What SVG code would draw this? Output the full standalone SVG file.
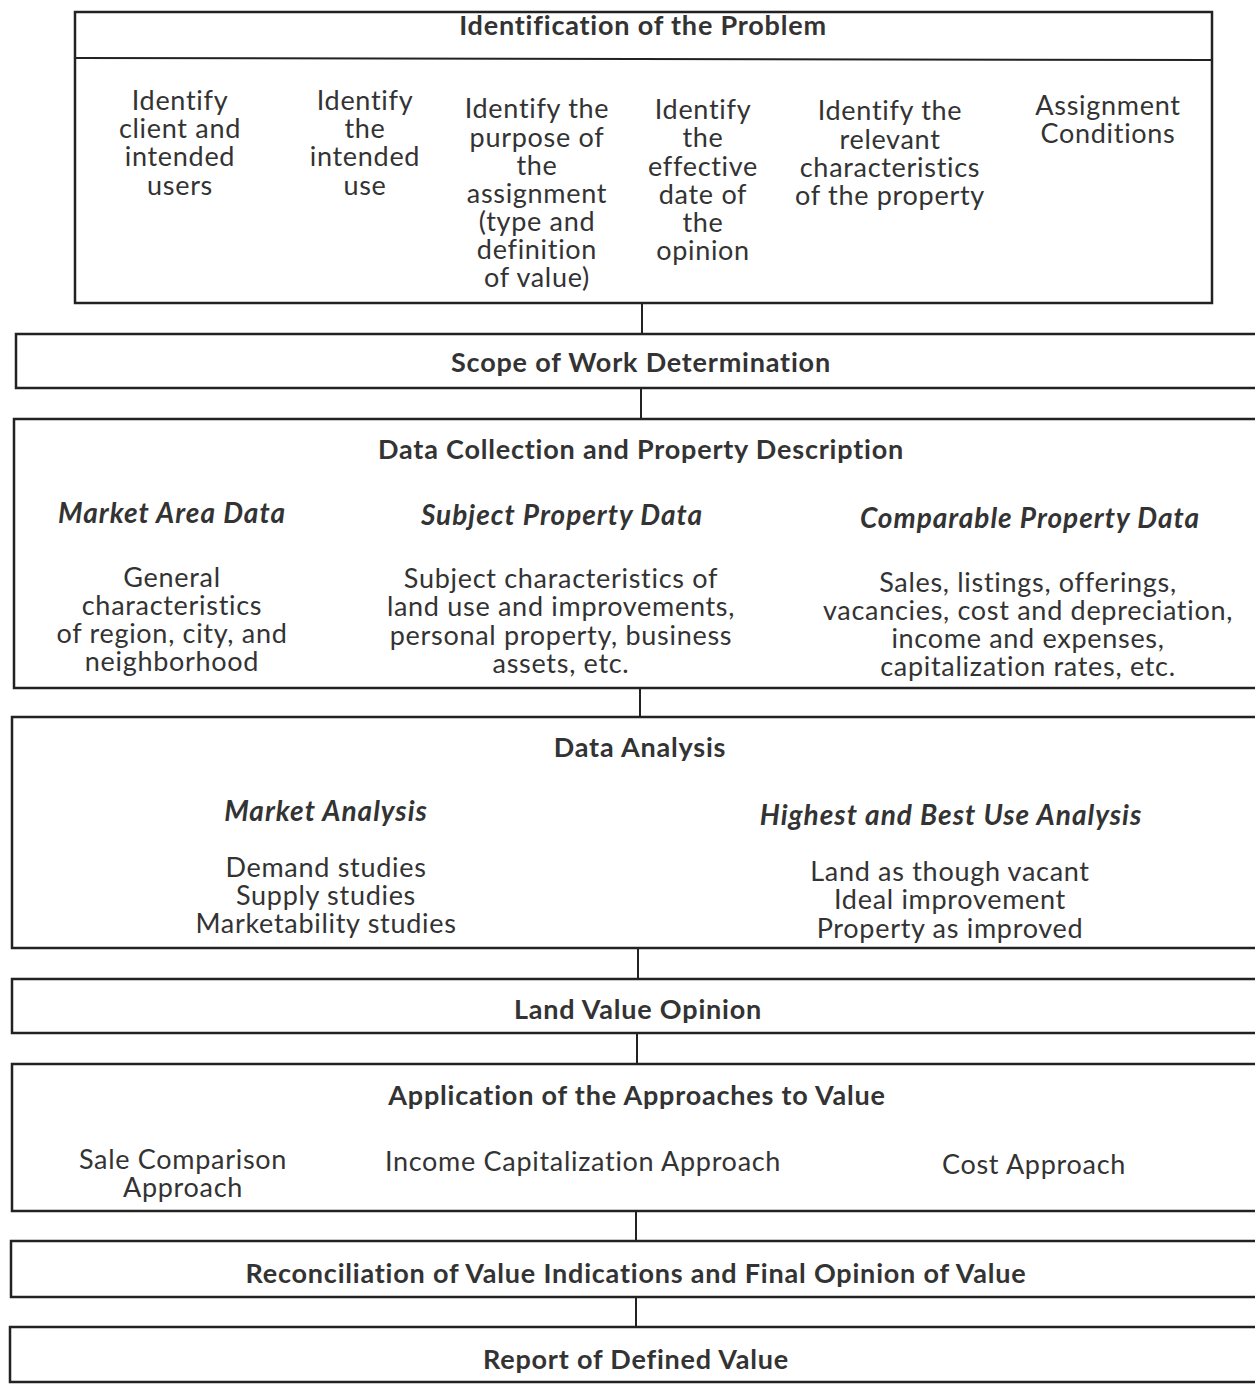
<svg xmlns="http://www.w3.org/2000/svg" width="1255" height="1384" viewBox="0 0 1255 1384">
<style>
.box{fill:#fff;stroke:#222;stroke-width:2.5}
.con{stroke:#222;stroke-width:2;fill:none}
text{font-family:Lato,"Open Sans","Liberation Sans",sans-serif;font-size:27px;letter-spacing:0.7px;fill:#333;text-anchor:middle}
.h{font-weight:bold;letter-spacing:0.8px}
.s{font-weight:bold;font-style:italic;font-size:28px;letter-spacing:1px}
</style>
<rect width="1255" height="1384" fill="#fff"/>
<g id="connectors">
<line class="con" x1="642" y1="304" x2="642" y2="333"/>
<line class="con" x1="641" y1="389" x2="641" y2="418"/>
<line class="con" x1="640" y1="689" x2="640" y2="716"/>
<line class="con" x1="638" y1="949" x2="638" y2="978"/>
<line class="con" x1="637" y1="1034" x2="637" y2="1063"/>
<line class="con" x1="636" y1="1212" x2="636" y2="1240"/>
<line class="con" x1="636" y1="1298" x2="636" y2="1326"/>
</g>
<g id="n1">
<rect class="box" x="75" y="12" width="1137" height="291"/>
<line class="con" x1="75" y1="58" x2="1212" y2="60" stroke-width="2.5"/>
<text class="h" x="643" y="35">Identification of the Problem</text>
<text x="180" y="110">Identify</text><text x="180" y="138">client and</text><text x="180" y="166">intended</text><text x="180" y="195">users</text>
<text x="365" y="110">Identify</text><text x="365" y="138">the</text><text x="365" y="166">intended</text><text x="365" y="195">use</text>
<text x="537" y="118">Identify the</text><text x="537" y="147">purpose of</text><text x="537" y="175">the</text><text x="537" y="203">assignment</text><text x="537" y="231">(type and</text><text x="537" y="259">definition</text><text x="537" y="287">of value)</text>
<text x="703" y="119">Identify</text><text x="703" y="147">the</text><text x="703" y="176">effective</text><text x="703" y="204">date of</text><text x="703" y="232">the</text><text x="703" y="260">opinion</text>
<text x="890" y="120">Identify the</text><text x="890" y="149">relevant</text><text x="890" y="177">characteristics</text><text x="890" y="205">of the property</text>
<text x="1108" y="115">Assignment</text><text x="1108" y="143">Conditions</text>
</g>
<g id="n2">
<rect class="box" x="16" y="334" width="1260" height="54"/>
<text class="h" x="641" y="372">Scope of Work Determination</text>
</g>
<g id="n3">
<rect class="box" x="14" y="419" width="1262" height="269"/>
<text class="h" x="641" y="459">Data Collection and Property Description</text>
<text class="s" x="172" y="523">Market Area Data</text>
<text class="s" x="562" y="525">Subject Property Data</text>
<text class="s" x="1030" y="528">Comparable Property Data</text>
<text x="172" y="587">General</text><text x="172" y="615">characteristics</text><text x="172" y="643">of region, city, and</text><text x="172" y="671">neighborhood</text>
<text x="561" y="588">Subject characteristics of</text><text x="561" y="616">land use and improvements,</text><text x="561" y="645">personal property, business</text><text x="561" y="673">assets, etc.</text>
<text x="1028" y="592">Sales, listings, offerings,</text><text x="1028" y="620">vacancies, cost and depreciation,</text><text x="1028" y="648">income and expenses,</text><text x="1028" y="676">capitalization rates, etc.</text>
</g>
<g id="n4">
<rect class="box" x="12" y="717" width="1264" height="231"/>
<text class="h" x="640" y="757">Data Analysis</text>
<text class="s" x="326" y="821">Market Analysis</text>
<text class="s" x="951" y="825">Highest and Best Use Analysis</text>
<text x="326" y="877">Demand studies</text><text x="326" y="905">Supply studies</text><text x="326" y="933">Marketability studies</text>
<text x="950" y="881">Land as though vacant</text><text x="950" y="909">Ideal improvement</text><text x="950" y="938">Property as improved</text>
</g>
<g id="n5">
<rect class="box" x="12" y="979" width="1264" height="54"/>
<text class="h" x="638" y="1019">Land Value Opinion</text>
</g>
<g id="n6">
<rect class="box" x="12" y="1064" width="1264" height="147"/>
<text class="h" x="637" y="1105">Application of the Approaches to Value</text>
<text x="183" y="1169">Sale Comparison</text><text x="183" y="1197">Approach</text>
<text x="583" y="1171">Income Capitalization Approach</text>
<text x="1034" y="1174">Cost Approach</text>
</g>
<g id="n7">
<rect class="box" x="11" y="1241" width="1265" height="56"/>
<text class="h" x="636" y="1283">Reconciliation of Value Indications and Final Opinion of Value</text>
</g>
<g id="n8">
<rect class="box" x="10" y="1327" width="1266" height="55"/>
<text class="h" x="636" y="1369">Report of Defined Value</text>
</g>
</svg>
